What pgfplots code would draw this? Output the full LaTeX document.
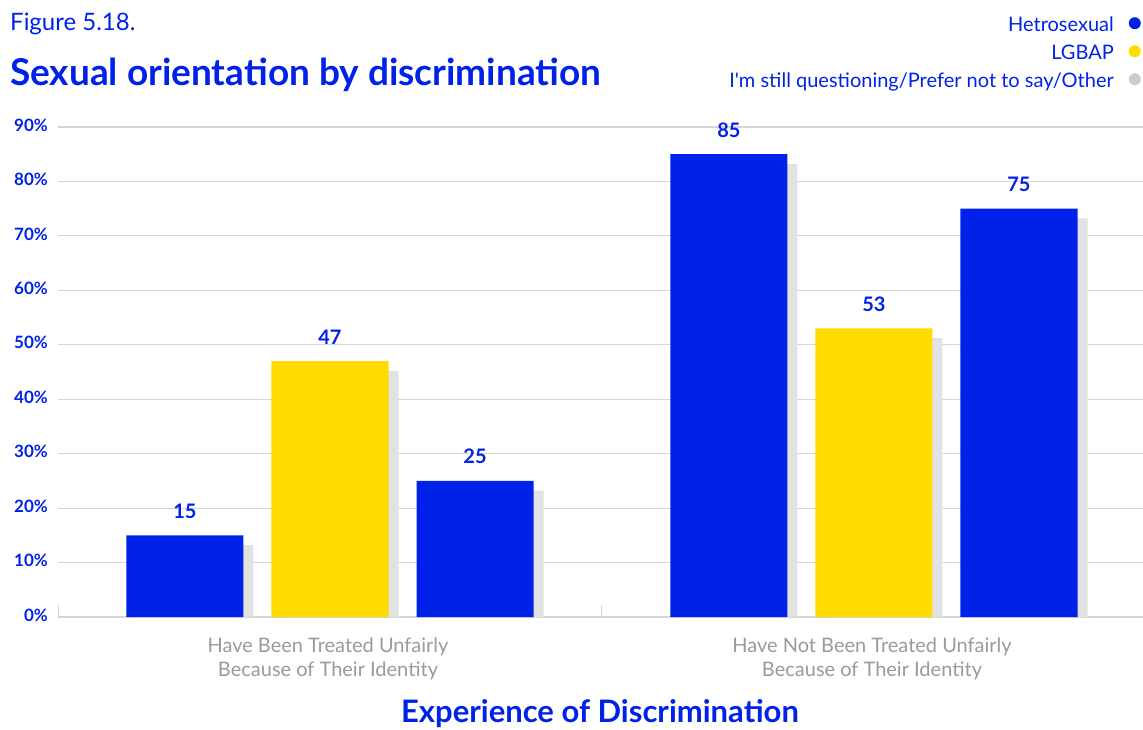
\documentclass[border=0pt]{standalone}
\usepackage{pgfplots}
\pgfplotsset{compat=1.18}
\usepackage{fontspec}
\setmainfont{Lato}
\definecolor{cblue}{HTML}{0022E8}
\definecolor{cyellow}{HTML}{FFDB00}
\definecolor{cshadow}{HTML}{E2E2E2}
\definecolor{cgrid}{HTML}{D6D6D6}
\definecolor{clabel}{HTML}{9A9A9A}
\definecolor{clegray}{HTML}{CCCCCC}
\begin{document}
\begin{tikzpicture}[x=1pt,y=1pt]
\useasboundingbox (0,0) rectangle (1143,729);
\node[anchor=base west, inner sep=0pt, text=cblue, font=\fontsize{24}{28}\selectfont] at (10,698) {Figure 5.18.};
\node[anchor=base west, inner sep=0pt, text=cblue, font=\fontsize{37}{42}\selectfont\bfseries] at (10,643) {Sexual orientation by discrimination};
\begin{axis}[
  at={(58pt,112pt)}, anchor=south west,
  scale only axis, width=1088pt, height=490pt,
  xmin=0, xmax=2, ymin=0, ymax=90,
  clip=false,
  /pgf/number format/assume math mode=true,
  axis x line*=bottom, axis y line*=left,
  x axis line style={color=cgrid, line width=1.5pt},
  y axis line style={draw=none},
  ytick={0,10,...,90},
  yticklabels={0\%,10\%,20\%,30\%,40\%,50\%,60\%,70\%,80\%,90\%},
  yticklabel style={anchor=east, inner sep=0pt, xshift=-10pt, yshift=2pt, text=cblue, font=\fontsize{17}{20}\selectfont\bfseries},
  ytick style={draw=none},
  ymajorgrids, grid style={color=cgrid, line width=1.2pt},
  xtick={0.5,1.5},
  xticklabels={{Have Been Treated Unfairly\\Because of Their Identity},{Have Not Been Treated Unfairly\\Because of Their Identity}},
  xticklabel style={align=center, anchor=north, inner sep=0pt, yshift=-21pt, xshift=-2pt, text=clabel, font=\fontsize{20}{24}\selectfont},
  minor xtick={0,1,2},
  tick align=inside,
  major tick length=0pt, minor tick length=12pt,
  minor tick style={color=cgrid, line width=1pt},
  xlabel={Experience of Discrimination},
  xlabel style={at={(axis description cs:0.4982,-0.2143)}, anchor=base, inner sep=0pt, text=cblue, font=\fontsize{31}{34}\selectfont\bfseries},
  every node near coord/.append style={anchor=base, yshift=17pt, text=cblue, font=\fontsize{20}{24}\selectfont\bfseries},
  legend image code/.code={\fill[#1] (6pt,3pt) circle (6pt);},
  legend plot pos=right,
  legend cell align=right,
  legend style={at={(axis description cs:0.9954,1.2245)}, anchor=north east, draw=none, fill=none, inner sep=0pt, row sep=10pt, column sep=15pt,
    nodes={inner sep=0pt, text=cblue, text height=14pt, text depth=4pt, font=\fontsize{20}{24}\selectfont}},
]
\addlegendimage{fill=cblue, draw=none}
\addlegendentry{Hetrosexual}
\addlegendimage{fill=cyellow, draw=none}
\addlegendentry{LGBAP}
\addlegendimage{fill=clegray, draw=none}
\addlegendentry{I\textquotesingle m still questioning/Prefer not to say/Other}
% shadows
\addplot[ybar, bar width=117pt, bar shift=-135pt, fill=cshadow, draw=none, forget plot] coordinates {(0.5,13.2) (1.5,83.2)};
\addplot[ybar, bar width=117pt, bar shift=10pt, fill=cshadow, draw=none, forget plot] coordinates {(0.5,45.2) (1.5,51.2)};
\addplot[ybar, bar width=117pt, bar shift=155pt, fill=cshadow, draw=none, forget plot] coordinates {(0.5,23.2) (1.5,73.2)};
% bars
\addplot[ybar, bar width=117pt, bar shift=-145pt, fill=cblue, draw=none, forget plot, nodes near coords,
  every node near coord/.append style={xshift=-145pt}] coordinates {(0.5,15) (1.5,85)};
\addplot[ybar, bar width=117pt, bar shift=0pt, fill=cyellow, draw=none, forget plot, nodes near coords] coordinates {(0.5,47) (1.5,53)};
\addplot[ybar, bar width=117pt, bar shift=145pt, fill=cblue, draw=none, forget plot, nodes near coords,
  every node near coord/.append style={xshift=145pt}] coordinates {(0.5,25) (1.5,75)};
\end{axis}
\end{tikzpicture}
\end{document}
